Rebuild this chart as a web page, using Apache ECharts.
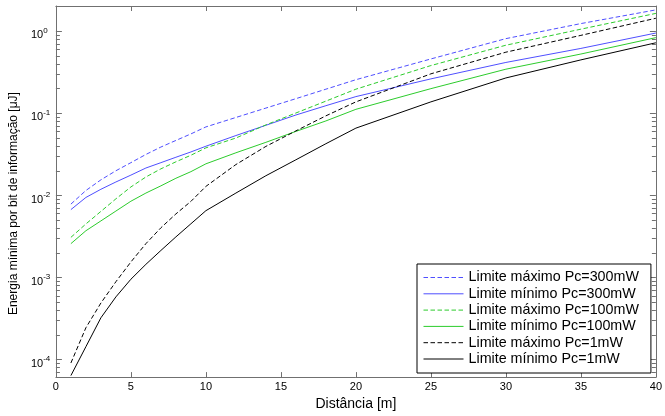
<!DOCTYPE html>
<html>
<head>
<meta charset="utf-8">
<script src="https://cdn.jsdelivr.net/npm/echarts@6/dist/echarts.min.js"></script>
<style>
html,body{margin:0;padding:0;background:#fff;}
#c{width:665px;height:416px;}
</style>
</head>
<body>
<div id="c"></div>
<script>
// Distance [m]
const distance = [1,2,3,4,5,6,7,8,9,10,12,14,16,18,20,25,30,35,40];
// Energy [uJ]
const maxPc300 = [0.00785,0.0115,0.0155,0.0200,0.0251,0.0316,0.0389,0.0468,0.0562,0.0684,0.0891,0.116,0.151,0.197,0.257,0.460,0.813,1.24,1.82];
const minPc300 = [0.00673,0.00946,0.0119,0.0146,0.0177,0.0216,0.0251,0.0292,0.0339,0.0398,0.0537,0.0716,0.0955,0.124,0.160,0.263,0.417,0.618,0.951];
const maxPc100 = [0.00309,0.00450,0.00640,0.00910,0.0127,0.0168,0.0211,0.0257,0.0309,0.0380,0.0501,0.0724,0.101,0.141,0.197,0.382,0.676,1.06,1.65];
const minPc100 = [0.00259,0.00372,0.00490,0.00646,0.00851,0.0107,0.0131,0.0162,0.0195,0.0243,0.0331,0.0444,0.0603,0.0809,0.112,0.200,0.345,0.528,0.836];
const maxPc1 = [0.0000912,0.000245,0.000490,0.000891,0.00155,0.00259,0.00404,0.00596,0.00847,0.0129,0.0238,0.0396,0.0612,0.0933,0.138,0.303,0.556,0.891,1.44];
const minPc1 = [0.0000641,0.000144,0.000324,0.000582,0.000955,0.00145,0.00214,0.00313,0.00452,0.00653,0.0107,0.0174,0.0272,0.0427,0.0661,0.138,0.270,0.448,0.724];
const seriesNames = ['Limite máximo Pc=300mW','Limite mínimo Pc=300mW','Limite máximo Pc=100mW','Limite mínimo Pc=100mW','Limite máximo Pc=1mW','Limite mínimo Pc=1mW'];
const xTicks = [0,5,10,15,20,25,30,35,40];
const yDecades = [-4,-3,-2,-1,0]; // 10^n labels
const yMinVal = 6.14e-5, yMaxVal = 2.03;

const LOGMIN = Math.log10(yMinVal), LOGMAX = Math.log10(yMaxVal);
const minorVals = [];
for (let n = -5; n <= 0; n++) {
  for (let k = 2; k <= 9; k++) {
    const v = n + Math.log10(k);
    if (v > LOGMIN && v < LOGMAX) minorVals.push(v);
  }
}
const majorVals = yDecades.slice();

const BLUE = '#4f4fff', GREEN = '#2ccc2c', BLACK = '#000000';
const AX = '#707070';
const dash = [4.5, 2.5];
const styles = [
  {color: BLUE, type: dash}, {color: BLUE, type: 'solid'},
  {color: GREEN, type: dash}, {color: GREEN, type: 'solid'},
  {color: BLACK, type: dash}, {color: BLACK, type: 'solid'}
];
const dataSets = [maxPc300, minPc300, maxPc100, minPc100, maxPc1, minPc1];

const font = 'Liberation Sans, Arial, Helvetica, sans-serif';

function yAxisDef(pos, vals, len, withLabels, withLine) {
  return {
    type: 'value', position: pos, min: LOGMIN, max: LOGMAX,
    axisLine: {show: withLine, onZero: false, lineStyle: {color: AX, width: 1}},
    axisTick: {show: true, inside: true, length: len, customValues: vals, lineStyle: {color: AX, width: 1}},
    splitLine: {show: false},
    axisLabel: withLabels ? {
      show: true, customValues: majorVals, align: 'left', margin: 25,
      padding: [5,0,0,0],
      formatter: function (v) { return '{b|10}{s|' + Math.round(v) + '}'; },
      rich: {
        b: {fontSize: 11, fontFamily: font, color: '#000', verticalAlign: 'bottom'},
        s: {fontSize: 8, fontFamily: font, color: '#000', verticalAlign: 'bottom', padding: [0,0,6,0]}
      }
    } : {show: false},
    name: withLabels ? 'Energia mínima por bit de informação [μJ]' : '',
    nameLocation: 'middle', nameGap: 34,
    nameTextStyle: {fontSize: 12, fontFamily: font, color: '#000', padding: [0, 24, 0, 0]}
  };
}

const option = {
  animation: false,
  backgroundColor: '#fff',
  grid: {left: 54, right: 7.5, top: 6, bottom: 34, containLabel: false},
  xAxis: [
    {
      type: 'value', position: 'bottom', min: 0, max: 40, interval: 5,
      axisLine: {show: true, onZero: false, lineStyle: {color: AX}},
      axisTick: {show: true, inside: true, length: 5, lineStyle: {color: AX}},
      splitLine: {show: false},
      axisLabel: {show: true, margin: 4, fontSize: 11, fontFamily: font, color: '#000',
        formatter: function (v) { return xTicks.indexOf(v) >= 0 ? String(v) : ''; }},
      name: 'Distância [m]', nameLocation: 'middle', nameGap: 15,
      nameTextStyle: {fontSize: 14, fontFamily: font, color: '#000'}
    },
    {
      type: 'value', position: 'top', min: 0, max: 40, interval: 5,
      axisLine: {show: true, onZero: false, lineStyle: {color: AX}},
      axisTick: {show: true, inside: true, length: 5, lineStyle: {color: AX}},
      splitLine: {show: false}, axisLabel: {show: false}
    }
  ],
  yAxis: [
    yAxisDef('left', majorVals, 6, true, true),
    yAxisDef('left', minorVals, 4, false, false),
    yAxisDef('right', majorVals, 6, false, true),
    yAxisDef('right', minorVals, 4, false, false)
  ],
  legend: {
    orient: 'vertical', left: 417, top: 264,
    itemWidth: 40, itemHeight: 14, itemGap: 2.3,
    padding: [6.5, 12, 7, 6],
    backgroundColor: '#fff', borderColor: '#000', borderWidth: 1,
    itemStyle: {opacity: 0},
    lineStyle: {width: 1},
    textStyle: {fontSize: 14.3, fontFamily: font, color: '#000'},
    data: seriesNames
  },
  series: dataSets.map(function (arr, i) {
    return {
      name: seriesNames[i], type: 'line', xAxisIndex: 0, yAxisIndex: 0,
      showSymbol: false, symbol: 'none', smooth: false,
      lineStyle: {color: styles[i].color, width: 1, type: styles[i].type},
      itemStyle: {color: styles[i].color},
      data: distance.map(function (x, j) { return [x, Math.log10(arr[j])]; })
    };
  })
};

const chart = echarts.init(document.getElementById('c'), null, {renderer: 'canvas'});
chart.setOption(option);
</script>
</body>
</html>
